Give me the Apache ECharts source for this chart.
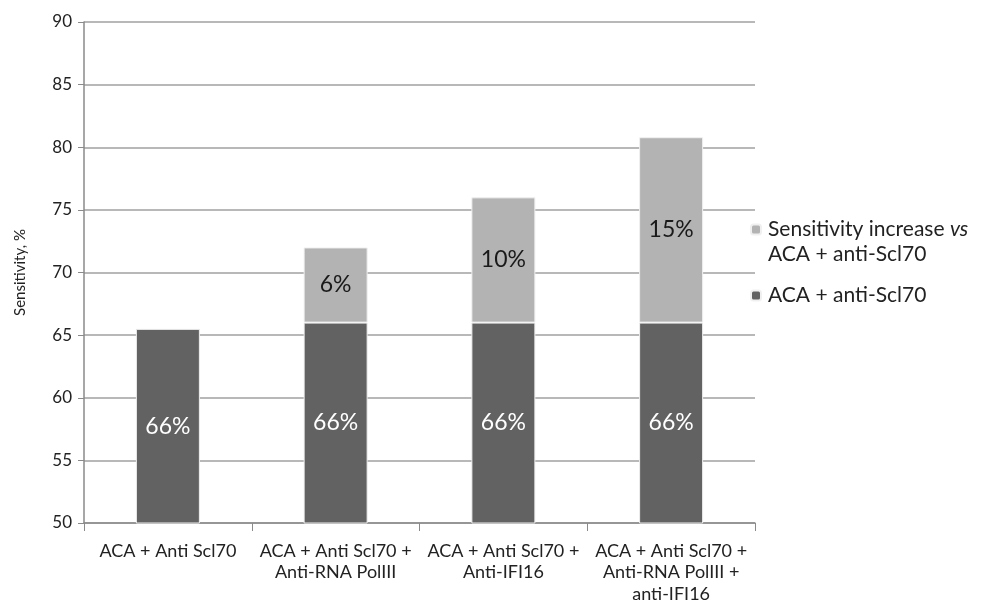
<!DOCTYPE html>
<html><head><meta charset="utf-8">
<script src="https://cdn.jsdelivr.net/npm/echarts@6/dist/echarts.min.js"></script>
<style>html,body{margin:0;padding:0;background:#fff}#c{width:994px;height:616px}</style>
</head><body><div id="c"></div>
<script>
const categories = ['ACA + Anti Scl70', 'ACA + Anti Scl70 +\nAnti-RNA PolIII', 'ACA + Anti Scl70 +\nAnti-IFI16', 'ACA + Anti Scl70 +\nAnti-RNA PolIII +\nanti-IFI16'];
const baseValues = [65.5, 66, 66, 66];
const increaseValues = [null, 6, 10, 14.8];
const yTicks = [50, 55, 60, 65, 70, 75, 80, 85, 90];
const baseName = 'ACA + anti-Scl70';
const incName = 'Sensitivity increase vs ACA + anti-Scl70';

const FONT = 'Lato';
const chart = echarts.init(document.getElementById('c'));
chart.setOption({
  animation: false,
  textStyle: { fontFamily: FONT },
  grid: { left: 84, right: 239, top: 22, bottom: 93 },
  legend: {
    orient: 'vertical', left: 745, top: 189, itemWidth: 10, itemHeight: 10, itemGap: 20,
    data: [incName, baseName],
    formatter: function (n) {
      if (n === incName) return '{e| }\n{a|Sensitivity increase }{i|vs}\n{a|ACA + anti-Scl70}';
      return '{a|' + n + '}';
    },
    textStyle: {
      color: '#222', fontSize: 21, fontFamily: FONT, padding: [0, 0, 0, 2],
      rich: {
        e: { fontSize: 21, fontFamily: FONT, color: '#222', lineHeight: 25 },
        a: { fontSize: 21, fontFamily: FONT, color: '#222', lineHeight: 25 },
        i: { fontSize: 21, fontFamily: FONT, fontStyle: 'italic', color: '#222', lineHeight: 25 }
      }
    }
  },
  xAxis: {
    type: 'category', data: categories,
    axisLine: { show: true, lineStyle: { color: '#8a8a8a', width: 1.5 } },
    axisTick: { show: true, length: 8, lineStyle: { color: '#8a8a8a' } },
    axisLabel: { color: '#222', fontSize: 18, lineHeight: 21.5, margin: 17, interval: 0 }
  },
  yAxis: {
    type: 'value', min: 50, max: 90, interval: 5,
    name: 'Sensitivity, %', nameLocation: 'middle', nameGap: 56, nameRotate: 90,
    nameTextStyle: { color: '#222', fontSize: 15 },
    axisLine: { show: true, lineStyle: { color: '#8a8a8a', width: 1.5 } },
    axisTick: { show: true, length: 6, lineStyle: { color: '#8a8a8a' } },
    axisLabel: { color: '#222', fontSize: 17, margin: 12,
      formatter: v => yTicks.includes(v) ? String(v) : '' },
    splitLine: { lineStyle: { color: '#b8b8b8', width: 2 } }
  },
  series: [
    {
      name: baseName, type: 'bar', stack: 's', data: baseValues, barWidth: 64,
      itemStyle: { color: '#626262', borderColor: '#f0f0f0', borderWidth: 1 },
      label: { show: true, position: 'inside', color: '#fff', fontSize: 23,
        formatter: p => Math.round(p.value) + '%' }
    },
    {
      name: incName, type: 'bar', stack: 's', data: increaseValues, barWidth: 64,
      itemStyle: { color: '#b3b3b3', borderColor: '#f0f0f0', borderWidth: 1 },
      label: { show: true, position: 'inside', color: '#1a1a1a', fontSize: 23,
        formatter: p => p.value == null ? '' : Math.round(p.value) + '%' }
    }
  ]
});
</script></body></html>
